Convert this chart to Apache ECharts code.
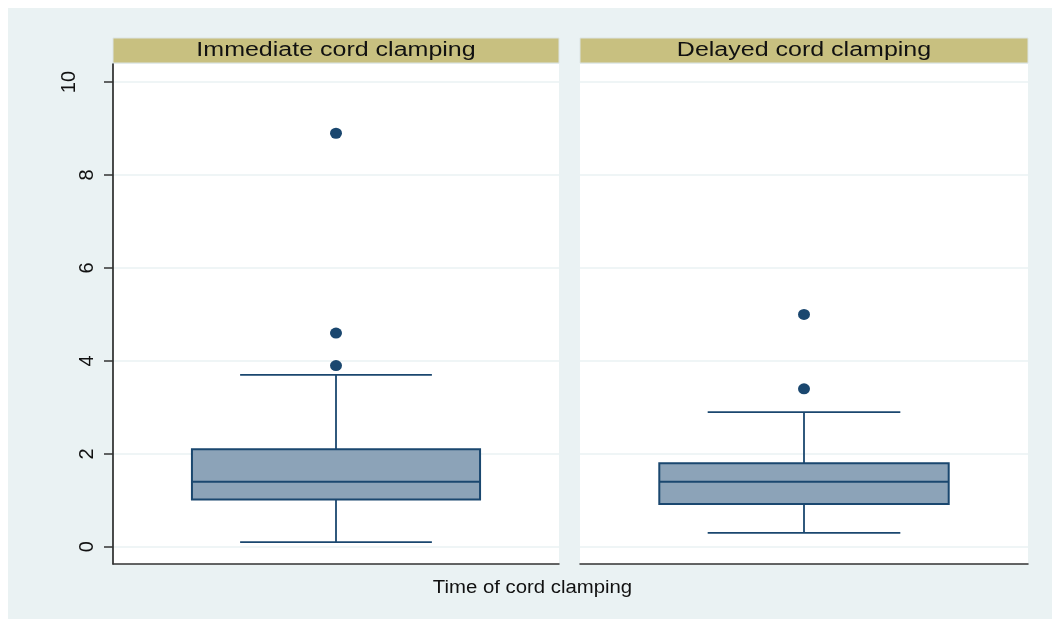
<!DOCTYPE html>
<html>
<head>
<meta charset="utf-8">
<script src="https://cdn.jsdelivr.net/npm/echarts@6/dist/echarts.min.js"></script>
<style>
  html, body { margin: 0; padding: 0; background: #ffffff; }
  #chart { width: 1052px; height: 619px; }
</style>
</head>
<body>
<div id="chart"></div>
<script>
// Box plots of the outcome by time of cord clamping, one panel per group
const panelTitles = ['Immediate cord clamping', 'Delayed cord clamping'];
const xTitle = 'Time of cord clamping';
const yTicks = [0, 2, 4, 6, 8, 10];

// Five-number summaries (adjacent values, quartiles, median) per group
const lowerAdjacent = [0.1, 0.3];
const lowerQuartile = [1.02, 0.92];
const medians = [1.4, 1.4];
const upperQuartile = [2.1, 1.8];
const upperAdjacent = [3.7, 2.9];

// Points beyond the adjacent values
const outliersImmediate = [3.9, 4.6, 8.9];
const outliersDelayed = [3.4, 5.0];

const NAVY = '#1A476F';
const BOX_FILL = '#8CA3B8';
const PAGE_BG = '#EAF2F3';
const STRIP = '#C8C080';
const FONT = '"Liberation Sans", Arial, Helvetica, sans-serif';

const panels = [
  { left: 113, width: 446 },
  { left: 580, width: 448 }
];
const PLOT_TOP = 64;
const PLOT_HEIGHT = 500;
const Y_MIN = -0.37;
const Y_MAX = 10.39;

const outlierSets = [outliersImmediate, outliersDelayed];

function renderBox(params, api) {
  const cx = api.coord([api.value(0), 0])[0];
  const band = api.size([1, 0])[0];
  const halfBox = band * 0.323;
  const halfCap = band * 0.215;
  const y = (i) => api.coord([0, api.value(i)])[1];
  const yLw = y(1), yQ1 = y(2), yMed = y(3), yQ3 = y(4), yUw = y(5);
  const line = { stroke: NAVY, lineWidth: 1.8 };
  return {
    type: 'group',
    children: [
      { type: 'line', shape: { x1: cx, y1: yQ1, x2: cx, y2: yLw }, style: line },
      { type: 'line', shape: { x1: cx, y1: yQ3, x2: cx, y2: yUw }, style: line },
      { type: 'line', shape: { x1: cx - halfCap, y1: yLw, x2: cx + halfCap, y2: yLw }, style: line },
      { type: 'line', shape: { x1: cx - halfCap, y1: yUw, x2: cx + halfCap, y2: yUw }, style: line },
      { type: 'rect', shape: { x: cx - halfBox, y: yQ3, width: 2 * halfBox, height: yQ1 - yQ3 },
        style: { fill: BOX_FILL, stroke: NAVY, lineWidth: 2 } },
      { type: 'line', shape: { x1: cx - halfBox, y1: yMed, x2: cx + halfBox, y2: yMed }, style: line }
    ]
  };
}

const grids = panels.map(p => ({
  left: p.left, top: PLOT_TOP, width: p.width, height: PLOT_HEIGHT,
  show: true, backgroundColor: '#ffffff', borderWidth: 0
}));

const xAxes = panels.map((p, i) => ({
  type: 'category',
  gridIndex: i,
  data: [panelTitles[i]],
  axisLine: { show: true, onZero: false, lineStyle: { color: '#333333', width: 1.5 } },
  axisTick: { show: false },
  axisLabel: { show: false },
  splitLine: { show: false }
}));

const yAxes = panels.map((p, i) => ({
  type: 'value',
  gridIndex: i,
  min: Y_MIN,
  max: Y_MAX,
  axisLine: { show: i === 0, onZero: false, lineStyle: { color: '#111111', width: 1.5 } },
  axisTick: {
    show: i === 0, customValues: yTicks, length: 9,
    lineStyle: { color: '#333333', width: 1.5 }
  },
  axisLabel: {
    show: i === 0,
    customValues: yTicks,
    rotate: 90,
    margin: 16,
    color: '#111111',
    fontSize: 20,
    fontFamily: FONT,
    formatter: v => (v >= 10 ? '{far|' + v + '}' : '{n|' + v + '}'),
    rich: {
      n: { fontSize: 20, fontFamily: FONT, color: '#111111' },
      far: { fontSize: 20, fontFamily: FONT, color: '#111111', padding: [0, 0, 18, 0] }
    }
  },
  splitLine: { show: true, lineStyle: { color: PAGE_BG, width: 1.5 } }
}));

const series = [];
panels.forEach((p, i) => {
  series.push({
    type: 'custom',
    xAxisIndex: i,
    yAxisIndex: i,
    renderItem: renderBox,
    encode: { x: 0, y: [1, 2, 3, 4, 5] },
    data: [[0, lowerAdjacent[i], lowerQuartile[i], medians[i], upperQuartile[i], upperAdjacent[i]]],
    z: 3
  });
  series.push({
    type: 'scatter',
    xAxisIndex: i,
    yAxisIndex: i,
    symbol: 'circle',
    symbolSize: [12, 11],
    itemStyle: { color: NAVY, opacity: 1 },
    data: outlierSets[i].map(v => [0, v]),
    z: 4
  });
});

const graphics = [
  { type: 'rect', z: -100, silent: true,
    shape: { x: 8, y: 8, width: 1044, height: 611 }, style: { fill: PAGE_BG } }
];
panels.forEach((p, i) => {
  graphics.push({
    type: 'rect', silent: true,
    shape: { x: p.left, y: 38, width: p.width, height: 25 },
    style: { fill: STRIP, stroke: '#DCE4E4', lineWidth: 1 }
  });
  graphics.push({
    type: 'text', silent: true,
    x: p.left + p.width / 2, y: 50, scaleX: 1.25,
    style: { text: panelTitles[i], x: 0, y: 0, fill: '#111111',
      font: '20px ' + FONT, textAlign: 'center', textVerticalAlign: 'middle' }
  });
});
graphics.push({
  type: 'text', silent: true,
  x: 532.5, y: 588, scaleX: 1.13,
  style: { text: xTitle, x: 0, y: 0, fill: '#111111',
    font: '18px ' + FONT, textAlign: 'center', textVerticalAlign: 'middle' }
});

const chart = echarts.init(document.getElementById('chart'), null, { renderer: 'canvas' });
chart.setOption({
  backgroundColor: '#ffffff',
  animation: false,
  grid: grids,
  xAxis: xAxes,
  yAxis: yAxes,
  series: series,
  graphic: graphics
});
</script>
</body>
</html>
